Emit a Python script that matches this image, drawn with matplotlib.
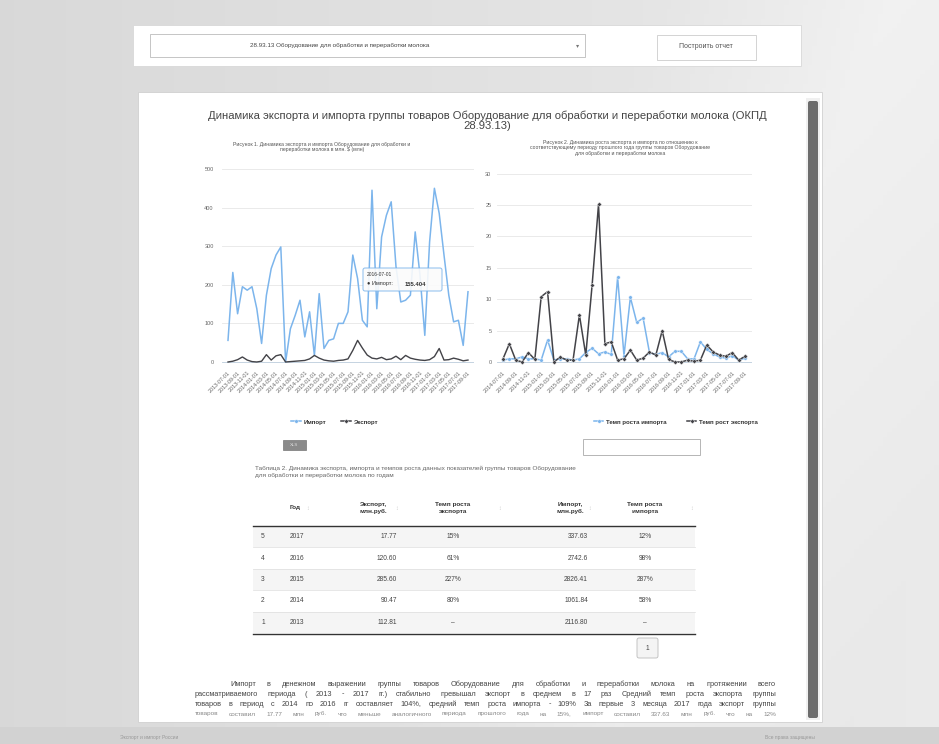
import numpy as np
import pandas as pd
import matplotlib
matplotlib.use('Agg')
import matplotlib.pyplot as plt
from matplotlib.patches import Rectangle, FancyBboxPatch
from matplotlib.lines import Line2D

plt.rcParams['font.family'] = ['Liberation Sans', 'DejaVu Sans']

W, H = 939, 744

# ---- data ----
months = pd.date_range('2013-07-01', periods=51, freq='MS').strftime('%Y-%m-%d')
imp = [56, 232, 125, 195, 186, 195, 138, 48, 173, 242,
       277, 298, 0, 86, 121, 160, 65, 130, 17, 177,
       35, 56, 60, 100, 100, 130, 277, 216, 108, 91,
       445, 138, 324, 380, 415, 247, 155.404, 160, 173, 337,
       225, 69, 311, 450, 385, 277, 173, 104, 108, 43, 182]
exp = [0, 2, 6, 13, 5, 1, 0, 2, 19, 5,
       16, 19, 0, 1, 2, 3, 4, 8, 17, 10,
       5, 3, 2, 4, 5, 8, 30, 56, 36, 18,
       10, 8, 12, 6, 8, 15, 6, 17, 10, 7,
       5, 4, 6, 14, 35, 5, 6, 10, 7, 3, 5]

months_g = months[12:]
imp_g = [0.3, 0.5, 0.5, 0.8, 0.5, 0.5, 0.3, 3.5, 0.3, 0.5,
         0.5, 0.3, 0.5, 1.5, 2.2, 1.3, 1.6, 1.2, 13.5, 1.0,
         10.3, 6.3, 7.0, 1.5, 1.2, 1.5, 0.8, 1.7, 1.7, 0.5,
         0.5, 3.2, 2.0, 1.3, 0.8, 0.6, 1.0, 0.3, 0.6]
exp_g = [0.5, 2.9, 0.3, 0, 1.5, 0.4, 10.4, 11.2, 0, 0.8,
         0.3, 0.3, 7.5, 1.1, 12.3, 25.1, 2.9, 3.2, 0.3, 0.5,
         1.9, 0.3, 0.6, 1.6, 1.1, 5.0, 0.4, 0, 0, 0.3,
         0.1, 0.3, 2.7, 1.6, 1.1, 0.9, 1.5, 0.3, 0.9]

tip_idx = 36

tbl_cols = ['#', 'Год', 'Экспорт,\nмлн.руб.', 'Темп роста\nэкспорта', 'Импорт,\nмлн.руб.', 'Темп роста\nимпорта']
tbl_n = ['5', '4', '3', '2', '1']
tbl_year = ['2017', '2016', '2015', '2014', '2013']
tbl_exp = ['17.77', '120.60', '285.60', '90.47', '112.81']
tbl_exp_rate = ['15%', '61%', '227%', '80%', '–']
tbl_imp = ['337.63', '2742.6', '2826.41', '1061.84', '2116.80']
tbl_imp_rate = ['12%', '98%', '287%', '58%', '–']

title = ('Динамика экспорта и импорта группы товаров Оборудование для обработки и переработки молока (ОКПД\n'
         '28.93.13)')
sub1 = 'Рисунок 1. Динамика экспорта и импорта Оборудование для обработки и\nпереработки молока в млн. $ (млн)'
sub2 = ('Рисунок 2. Динамика роста экспорта и импорта по отношению к\n'
        'соответствующему периоду прошлого года группы товаров Оборудование\n'
        'для обработки и переработки молока')
caption = ('Таблица 2. Динамика экспорта, импорта и темпов роста данных показателей группы товаров Оборудование\n'
           'для обработки и переработки молока по годам')
para = [
    'Импорт в денежном выражении группы товаров Оборудование для обработки и переработки молока на протяжении всего',
    'рассматриваемого периода ( 2013 - 2017 гг.) стабильно превышал экспорт в среднем в 17 раз Средний темп роста экспорта группы',
    'товаров в период с 2014 по 2016 гг составляет 104%, средний темп роста импорта - 109% За первые 3 месяца 2017 года экспорт группы',
    'товаров составил 17.77 млн руб. что меньше аналогичного периода прошлого года на 15%, импорт составил 337.63 млн руб. что на 12%',
]

BLUE = '#7cb5ec'
DARK = '#434348'
GRID = '#e6e6e6'
TXT = '#666666'

fig = plt.figure(figsize=(W / 100, H / 100), dpi=100)

page = fig.add_axes([0, 0, 1, 1], zorder=0)
page.set_xlim(0, W)
page.set_ylim(H, 0)
page.axis('off')

# page background
xx = np.linspace(0, 1, 200)
yy = np.linspace(0, 1, 160)
gx, gy = np.meshgrid(xx, yy)
g = 0.85 + 0.07 * gx + 0.03 * np.clip(1 - np.abs(gx - 0.95 + 0.3 * gy) * 4, 0, 1)
page.imshow(np.dstack([g, g, g]), extent=(0, W, H, 0), aspect='auto', zorder=0)

# top bar
page.add_patch(Rectangle((133, 25), 668, 41, fc='white', ec='#d8d8d8', lw=0.6, zorder=1))
page.add_patch(Rectangle((150, 34), 435, 23, fc='white', ec='#bbbbbb', lw=0.6, zorder=2))
page.text(340, 46, '28.93.13 Оборудование для обработки и переработки молока', fontsize=4.5,
          color='#444444', ha='center', va='center', zorder=3)
page.text(578, 46, '▾', fontsize=4.5, color='#777777', ha='center', va='center', zorder=3)
page.add_patch(Rectangle((657, 35), 99, 25, fc='white', ec='#cccccc', lw=0.6, zorder=2))
page.text(706, 47, 'Построить отчет', fontsize=5, color='#555555', ha='center', va='center', zorder=3)

# main panel
page.add_patch(Rectangle((138, 92), 684, 630, fc='white', ec='#d0d0d0', lw=0.6, zorder=1))
page.add_patch(Rectangle((806, 98), 14, 622, fc='#f0f0f0', ec='none', zorder=2))
page.add_patch(FancyBboxPatch((808, 101), 10, 617, boxstyle='round,pad=0,rounding_size=2',
                              fc='#6c6c6c', ec='none', zorder=3))
# bottom strip
page.add_patch(Rectangle((0, 727), W, 17, fc='#d2d2d2', ec='none', zorder=1))
page.text(120, 737, 'Экспорт и импорт России', fontsize=3.5, color='#999999', va='center', zorder=2)
page.text(815, 737, 'Все права защищены', fontsize=3.5, color='#999999', va='center', ha='right', zorder=2)

page.text(487, 121, title, fontsize=8.1, color='#444444', ha='center', va='center',
          linespacing=1.05, zorder=3)
page.text(322, 147, sub1, fontsize=3.7, color='#555555', ha='center', va='center', zorder=3)
page.text(620, 148, sub2, fontsize=3.7, color='#555555', ha='center', va='center', zorder=3)


def px_axes(x0, y0, x1, y1):
    return [x0 / W, 1 - y1 / H, (x1 - x0) / W, (y1 - y0) / H]


def style(ax, ticks, labels, ylim, step, pad):
    ax.set_facecolor('none')
    for s in ax.spines.values():
        s.set_visible(False)
    ax.set_ylim(*ylim)
    ax.set_yticks(ticks)
    ax.grid(axis='y', color=GRID, lw=0.6)
    ax.set_axisbelow(True)
    ax.tick_params(axis='y', length=0, labelsize=4, labelcolor=TXT, pad=pad)
    pos = list(range(0, len(labels), step))
    ax.set_xticks(pos)
    ax.set_xticklabels([labels[i] for i in pos], rotation=45, ha='right',
                       rotation_mode='anchor', fontsize=3.9, color=TXT)
    ax.tick_params(axis='x', length=0, pad=3)
    ax.axhline(0, color='#c0d0e0', lw=0.6, zorder=1)


# left chart
ax1 = fig.add_axes(px_axes(222, 163, 474, 366), zorder=2)
x1 = np.arange(len(months))
ax1.plot(x1, imp, color=BLUE, lw=1.1, zorder=3)
ax1.plot(x1, exp, color=DARK, lw=1.0, zorder=3)
ax1.set_xlim(-1.25, 51.25)
style(ax1, range(0, 501, 100), list(months), (-10.4, 515.5), 2, 6)

# tooltip
ax1.add_patch(FancyBboxPatch((363, 268), 79, 23, boxstyle='round,pad=0,rounding_size=2',
                             fc='#fbfbfb', ec=BLUE, lw=0.7, alpha=0.9,
                             transform=page.transData, clip_on=False, zorder=5))
ax1.text(367, 274, months[tip_idx], fontsize=3.5, color='#333333', va='center',
         transform=page.transData, zorder=6)
ax1.text(367, 284, '● Импорт: ', fontsize=4, color='#333333', va='center',
         transform=page.transData, zorder=6)
ax1.text(405, 284, f'{imp[tip_idx]:.3f}'.rstrip('0'), fontsize=4.2, color='#333333', va='center',
         fontweight='bold', transform=page.transData, zorder=6)

# right chart
ax2 = fig.add_axes(px_axes(497, 163, 752, 366), zorder=2)
x2 = np.arange(len(months_g))
ax2.plot(x2, imp_g, color=BLUE, lw=1.1, marker='o', ms=2.6, mfc=BLUE, mec='white', mew=0.3, zorder=3)
ax2.plot(x2, exp_g, color=DARK, lw=1.1, marker='D', ms=2.4, mfc=DARK, mec='white', mew=0.3, zorder=3)
ax2.set_xlim(-0.94, 39.1)
style(ax2, range(0, 31, 5), list(months_g), (-0.64, 31.7), 2, 4)

# legends
h_imp = Line2D([], [], color=BLUE, lw=1.1, marker='o', ms=2.6, mec='white', mew=0.3)
h_exp = Line2D([], [], color=DARK, lw=1.1, marker='D', ms=2.4, mec='white', mew=0.3)
leg_kw = dict(frameon=False, ncol=2, handlelength=1.6, handletextpad=0.5,
              prop={'size': 4.4, 'weight': 'bold'}, loc='center', bbox_transform=page.transData)
l1 = ax1.legend([h_imp, h_exp], ['Импорт', 'Экспорт'], bbox_to_anchor=(335, 422),
                columnspacing=2.4, **leg_kw)
l2 = ax2.legend([h_imp, h_exp], ['Темп роста импорта', 'Темп рост экспорта'],
                bbox_to_anchor=(676, 422), columnspacing=3.2, **leg_kw)
for lg in (l1, l2):
    for t in lg.get_texts():
        t.set_color('#333333')

# controls under charts
page.add_patch(Rectangle((283, 440), 23, 10, fc='#8a8a8a', ec='#777777', lw=0.5, zorder=3))
page.text(294.5, 445, 'XLS', fontsize=3.2, color='#dddddd', ha='center', va='center', zorder=4)
page.add_patch(Rectangle((583, 439), 117, 16, fc='white', ec='#aaaaaa', lw=0.6, zorder=3))

page.text(255, 472, caption, fontsize=4.6, color='#666666', va='center', linespacing=1.5, zorder=3)

# table
tx0, tx1 = 253, 695
row_y = [536.5, 558, 579.5, 601, 622.5]
rh = 21.4
for i, y in enumerate(row_y):
    if i % 2 == 0:
        page.add_patch(Rectangle((tx0, y - rh / 2), tx1 - tx0, rh, fc='#f5f5f5', ec='none', zorder=2))
    if i > 0:
        page.plot([tx0, tx1], [y - rh / 2, y - rh / 2], color='#dddddd', lw=0.5, zorder=3)
page.plot([tx0, tx1], [526, 526], color='#333333', lw=1.0, zorder=3)
page.plot([tx0, tx1], [633.5, 633.5], color='#333333', lw=1.0, zorder=3)

hdr_x = [263, 290, 373, 453, 570, 645]
hdr_ha = ['center', 'left', 'center', 'center', 'center', 'center']
for c, x, ha in zip(tbl_cols, hdr_x, hdr_ha):
    if c == '#':
        continue
    page.text(x, 508, c, fontsize=4.6, color='#333333', ha=ha, va='center',
              fontweight='bold', linespacing=1.4, zorder=3)
for x in (308, 397, 500, 590, 692):
    page.text(x, 508, '↕', fontsize=4, color='#cccccc', ha='center', va='center', zorder=3)

cell = dict(fontsize=4.8, color='#444444', va='center', zorder=3)
for i, y in enumerate(row_y):
    page.text(263, y, tbl_n[i], ha='center', **cell)
    page.text(290, y, tbl_year[i], ha='left', **cell)
    page.text(397, y, tbl_exp[i], ha='right', **cell)
    page.text(453, y, tbl_exp_rate[i], ha='center', **cell)
    page.text(588, y, tbl_imp[i], ha='right', **cell)
    page.text(645, y, tbl_imp_rate[i], ha='center', **cell)

page.add_patch(FancyBboxPatch((637, 638), 21, 20, boxstyle='round,pad=0,rounding_size=2',
                              fc='#f4f4f4', ec='#bbbbbb', lw=0.6, zorder=3))
page.text(647.5, 648, '1', fontsize=4.8, color='#444444', ha='center', va='center', zorder=4)

# paragraph, justified
renderer = fig.canvas.get_renderer()


def justify(line, x0, x1, y, fs):
    words = line.split()
    ts = [page.text(0, y, w, fontsize=fs, color='#444444', va='center', zorder=3) for w in words]
    widths = [t.get_window_extent(renderer).width for t in ts]
    gap = (x1 - x0 - sum(widths)) / (len(words) - 1)
    x = x0
    for t, w in zip(ts, widths):
        t.set_x(x)
        x += w + gap
    return ts


justify(para[0], 230, 776, 684, 5.3)
justify(para[1], 195, 776, 694, 5.3)
justify(para[2], 195, 776, 704, 5.3)
clip = Rectangle((138, 92), 684, 620, transform=page.transData)
for t in justify(para[3], 195, 776, 714, 4.6):
    t.set_clip_path(clip)
    t.set_color('#888888')

fig.savefig('out.png', dpi=100)
